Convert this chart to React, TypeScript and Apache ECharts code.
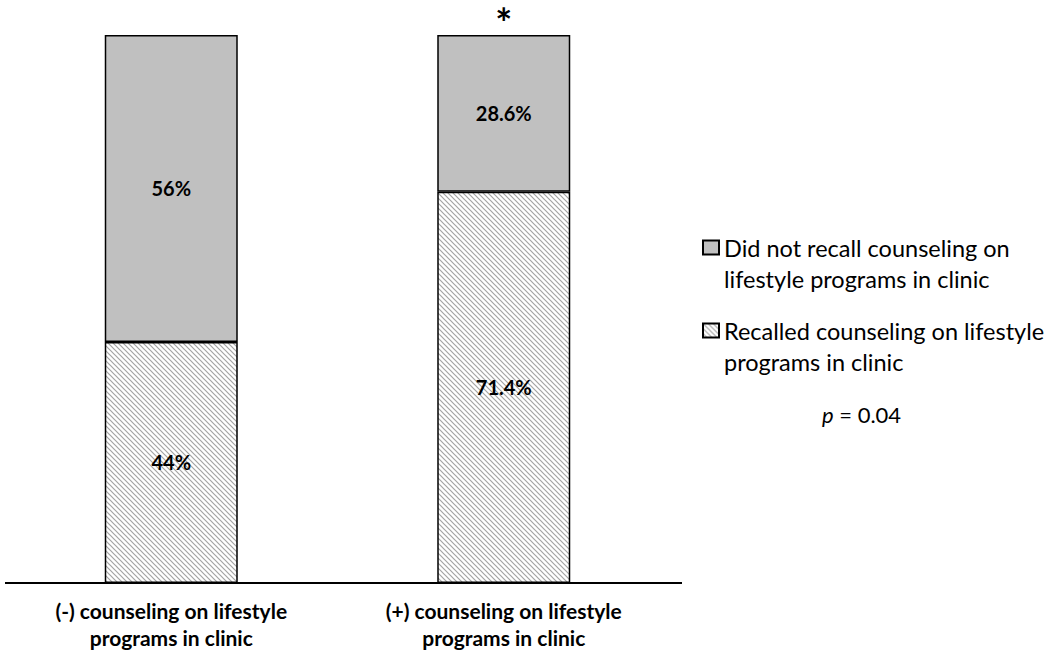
import React, { useEffect, useRef } from "react";
import * as echarts from "echarts";

const categories = [
  "(-) counseling on lifestyle\nprograms in clinic",
  "(+) counseling on lifestyle\nprograms in clinic",
];
const recalled = [44, 71.4];
const notRecalled = [56, 28.6];
const recalledName = "Recalled counseling on lifestyle\nprograms in clinic";
const notRecalledName = "Did not recall counseling on\nlifestyle programs in clinic";
const significantIndex = 1;

function makeHatch(): HTMLCanvasElement {
  const c = document.createElement("canvas");
  const s = 5;
  c.width = s;
  c.height = s;
  const ctx = c.getContext("2d")!;
  ctx.fillStyle = "#ffffff";
  ctx.fillRect(0, 0, s, s);
  ctx.strokeStyle = "#a4a4a4";
  ctx.lineWidth = 1.2;
  ctx.beginPath();
  ctx.moveTo(-1, -1);
  ctx.lineTo(s + 1, s + 1);
  ctx.moveTo(-1, s - 1);
  ctx.lineTo(1, s + 1);
  ctx.moveTo(s - 1, -1);
  ctx.lineTo(s + 1, 1);
  ctx.stroke();
  return c;
}

export default function App() {
  const ref = useRef<HTMLDivElement>(null);
  useEffect(() => {
    if (!ref.current) return;
    const chart = echarts.init(ref.current, undefined, { renderer: "svg" });
    const hatch = makeHatch();
    const font = "Lato, 'Liberation Sans', sans-serif";
    const labelStyle = {
      show: true,
      position: "inside",
      formatter: (p: any) => p.value + "%",
      color: "#000",
      fontWeight: "bold",
      fontSize: 20,
      fontFamily: font,
    };
    chart.setOption({
      animation: false,
      backgroundColor: "#ffffff",
      grid: { left: 5, top: 35, width: 665, bottom: 74, containLabel: false },
      xAxis: {
        type: "category",
        data: categories,
        axisLine: { show: false },
        axisTick: { show: false },
        axisLabel: {
          color: "#000",
          fontFamily: font,
          fontWeight: "bold",
          fontSize: 21,
          lineHeight: 27,
          margin: 14,
          interval: 0,
        },
      },
      yAxis: { type: "value", min: 0, max: 100, show: false },
      legend: {
        orient: "vertical",
        left: 697,
        top: 196,
        itemWidth: 16,
        itemHeight: 14,
        itemGap: -10,
        icon: "rect",
        data: [notRecalledName, recalledName],
        formatter: (name: string) => "\n" + name,
        textStyle: {
          color: "#000",
          fontFamily: font,
          fontSize: 23.5,
          lineHeight: 31,
        },
        selectedMode: false,
      },
      graphic: [
        {
          type: "line",
          shape: { x1: 5, y1: 583, x2: 682, y2: 583 },
          style: { stroke: "#000", lineWidth: 2 },
        },
        {
          type: "text",
          left: 822,
          top: 403,
          style: {
            rich: {
              i: { fontStyle: "italic", fontSize: 22, fontFamily: font },
              n: { fontSize: 22, fontFamily: font },
            },
            text: "{i|p}{n| = 0.04}",
            fill: "#000",
          },
        },
      ],
      series: [
        {
          name: recalledName,
          type: "bar",
          stack: "total",
          barWidth: 133,
          data: recalled,
          itemStyle: {
            color: { image: hatch, repeat: "repeat" },
            borderColor: "#000",
            borderWidth: 1.5,
          },
          label: labelStyle,
        },
        {
          name: notRecalledName,
          type: "bar",
          stack: "total",
          barWidth: 133,
          data: notRecalled,
          itemStyle: {
            color: "#c0c0c0",
            borderColor: "#000",
            borderWidth: 1.5,
          },
          label: labelStyle,
          markPoint: {
            symbol: "rect",
            symbolSize: 0,
            data: [
              {
                coord: [significantIndex, 100],
                label: {
                  show: true,
                  formatter: "*",
                  position: "top",
                  distance: -8,
                  color: "#000",
                  fontSize: 40,
                  fontWeight: "bold",
                  fontFamily: font,
                },
              },
            ],
          },
        },
      ],
    });
    return () => chart.dispose();
  }, []);
  return (
    <div
      ref={ref}
      style={{ position: "absolute", left: 0, top: 0, width: 1050, height: 657 }}
    />
  );
}
